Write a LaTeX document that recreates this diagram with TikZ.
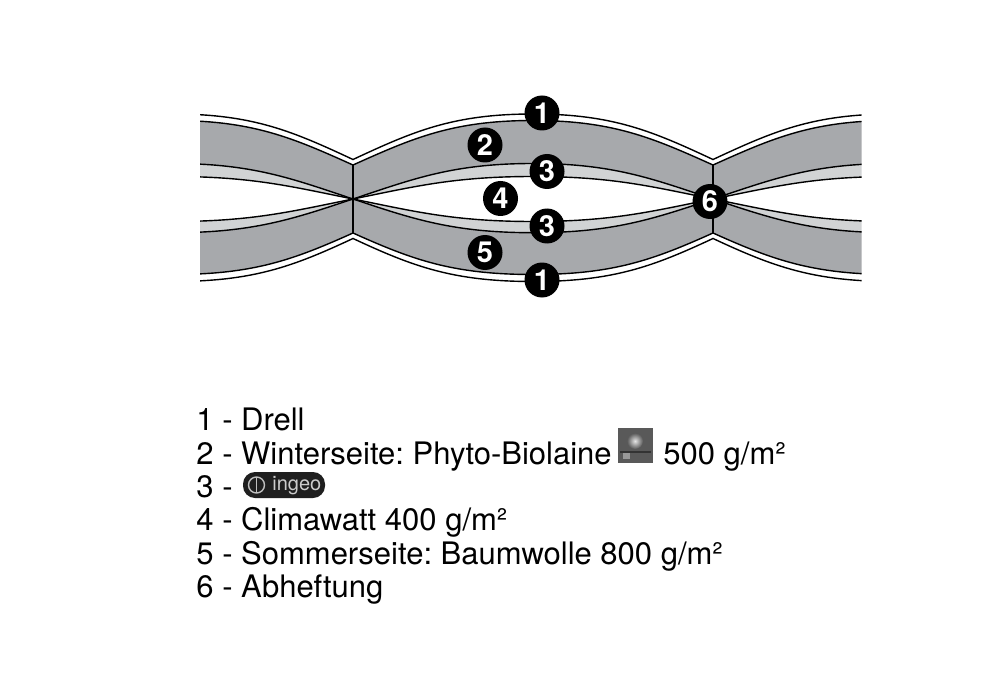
\documentclass[tikz,border=0pt]{standalone}
\usepackage{fontspec}
\setmainfont{TeX Gyre Heros}
\definecolor{fabric}{HTML}{A7A9AC}
\definecolor{fleece}{HTML}{D1D3D4}
% one seam, left to right and right to left: #1 crest, #2 pinch, #3 control offset
\newcommand{\seamfwd}[3]{(173,#1) .. controls (253,#1) and (293,#2-#3) .. (353,#2) .. controls (413,#2-#3) and (453,#1) .. (533,#1) .. controls (613,#1) and (653,#2-#3) .. (713,#2) .. controls (773,#2-#3) and (813,#1) .. (893,#1)}
\newcommand{\seamback}[3]{(893,#1) .. controls (813,#1) and (773,#2-#3) .. (713,#2) .. controls (653,#2-#3) and (613,#1) .. (533,#1) .. controls (453,#1) and (413,#2-#3) .. (353,#2) .. controls (293,#2-#3) and (253,#1) .. (173,#1)}
\tikzset{
  seam/.style={black,line width=0.7pt,line join=miter},
  badge/.style={circle,fill=black,text=white,inner sep=0pt,minimum size=17.5pt,font=\fontsize{14.5}{14.5}\selectfont\bfseries},
  legend/.style={anchor=base west,inner sep=0pt,font=\fontsize{15.5}{17}\selectfont\frenchspacing},
}
\begin{document}
\begin{tikzpicture}[x=0.5pt,y=-0.5pt]
\useasboundingbox (0,0) rectangle (1000,700);
\begin{scope}
\clip (200,100) rectangle (861.5,300);
\fill[fabric] \seamfwd{120.5}{165}{27} -- \seamback{163.5}{199}{20} -- cycle;
\fill[fleece] \seamfwd{163.5}{199}{20} -- \seamback{176.5}{199}{12} -- cycle;
\fill[fleece] \seamfwd{221.5}{199}{-12} -- \seamback{232.7}{199}{-20} -- cycle;
\fill[fabric] \seamfwd{232.7}{199}{-20} -- \seamback{274.5}{233}{-27} -- cycle;
\foreach \p/\q/\c in {114/159.5/28,120.5/165/27,163.5/199/20,176.5/199/12,221.5/199/-12,232.7/199/-20,274.5/233/-27,281.5/238.5/-28} {
  \draw[seam] \seamfwd{\p}{\q}{\c};
}
\end{scope}
\coordinate (pinchAtop) at (353,165);
\coordinate (pinchAbot) at (353,233);
\coordinate (pinchBtop) at (713,165);
\coordinate (pinchBbot) at (713,233);
\draw[line width=1pt] (pinchAtop) -- (pinchAbot);
\draw[line width=1pt] (pinchBtop) -- (pinchBbot);
\foreach \n/\t/\x/\y in {a/1/542/113,b/2/485/145,c/3/547/171.5,d/4/500.5/198.5,e/3/547/226,f/5/485/252.5,g/1/542/280,h/6/710/201.5} {
  \node[badge] (badge\n) at (\x,\y) {\t};
}
% legend
\foreach \n/\y/\t in {a/430/{1 - Drell},b/464/{2 - Winterseite: Phyto-Biolaine},c/497/{3 -},d/530/{4 - Climawatt 400 g/m²},e/564/{5 - Sommerseite: Baumwolle 800 g/m²},f/597/{6 - Abheftung}} {
  \node[legend] (line\n) at (196,\y) {\t};
}
\node[legend] (gsm) at (663,464) {500 g/m²};
% phyto mark
\fill[black!65] (618,428) rectangle (653,463);
\shade[inner color=black!10,outer color=black!65] (635,441) circle (8);
\fill[black!80] (620,451) rectangle (651,453);
\fill[black!40] (623,453) rectangle (630,459);
% ingeo mark
\node[fill=black!88,rounded corners=6pt,minimum width=41pt,minimum height=13pt,inner sep=0pt] (ingeo) at (284,485) {};
\node[anchor=base west,inner sep=0pt,text=black!20,font=\fontsize{10}{10}\selectfont] (ingeotext) at (272,490) {ingeo};
\draw[black!25,line width=0.7pt] (256.5,485) circle (8);
\draw[black!25,line width=0.7pt] (256.5,478) -- (256.5,492);
\end{tikzpicture}
\end{document}
